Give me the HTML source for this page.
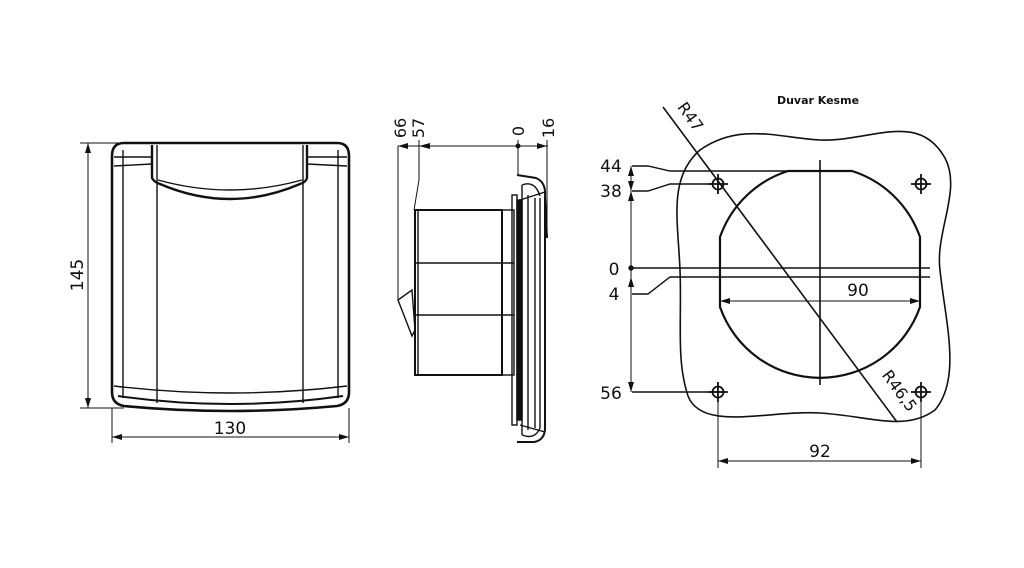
<!DOCTYPE html>
<html><head><meta charset="utf-8"><style>
html,body{margin:0;padding:0;background:#fff}
svg{display:block}
text{font-family:"DejaVu Sans","Liberation Sans",sans-serif;fill:#111}
</style></head><body>
<svg width="1024" height="568" viewBox="0 0 1024 568" xmlns="http://www.w3.org/2000/svg">
<defs>
<marker id="a" viewBox="0 0 10 6" refX="10" refY="3" markerWidth="10" markerHeight="6" orient="auto-start-reverse" markerUnits="userSpaceOnUse"><path d="M0,0 L10,3 L0,6 Z" fill="#111"/></marker>
</defs>
<g fill="none" stroke="#111" stroke-width="1.4">
<!-- LEFT VIEW -->
<path d="M124,143 L337,143 Q349,143 349,156 L349,392 Q349,404 337,406 Q230,416 124,406 Q112,404 112,392 L112,156 Q112,143 124,143 Z" stroke-width="2.6"/>
<line x1="123" y1="150" x2="123" y2="398"/>
<line x1="338" y1="150" x2="338" y2="398"/>
<line x1="157" y1="145" x2="157" y2="403"/>
<line x1="303" y1="145" x2="303" y2="403"/>
<path d="M114,157 L152,157 M307,157 L347,157"/>
<path d="M114,166 L152,164 M307,164 L347,166"/>
<path d="M152,145 L152,178 Q154,182 160,184 Q230,214 300,184 Q306,182 307,178 L307,145" stroke-width="2.4"/>
<path d="M158,180 Q230,200 302,180"/>
<path d="M114,386 Q230,400 347,386"/>
<path d="M118,396 Q230,412 343,396" stroke-width="2"/>
<!-- dims left -->
<line x1="80" y1="143" x2="124" y2="143" stroke-width="1"/>
<line x1="80" y1="408" x2="124" y2="408" stroke-width="1"/>
<line x1="88" y1="143" x2="88" y2="408" stroke-width="1" marker-start="url(#a)" marker-end="url(#a)"/>
<line x1="112" y1="408" x2="112" y2="443" stroke-width="1"/>
<line x1="349" y1="408" x2="349" y2="443" stroke-width="1"/>
<line x1="112" y1="437" x2="349" y2="437" stroke-width="1" marker-start="url(#a)" marker-end="url(#a)"/>

<!-- MIDDLE VIEW -->
<line x1="398" y1="146" x2="548" y2="146" stroke-width="1"/>
<path d="M398,146 L398,300" stroke-width="1"/>
<path d="M419,140 L419,180 L414,210" stroke-width="1"/>
<line x1="518" y1="140" x2="518" y2="175" stroke-width="1"/>
<line x1="547" y1="140" x2="547" y2="230" stroke-width="1"/>
<circle cx="518" cy="146" r="1.8" fill="#111"/>
<path d="M398,146 L408,143 L408,149 Z M419,146 L430,143 L430,149 Z M537,143 L547,146 L537,149 Z" fill="#111" stroke="none"/>
<rect x="415" y="210" width="87" height="165" stroke-width="2"/>
<line x1="418" y1="210" x2="418" y2="375"/>
<line x1="415" y1="263" x2="514" y2="263" stroke-width="1.6"/>
<line x1="415" y1="315" x2="514" y2="315" stroke-width="1.6"/>
<rect x="502" y="210" width="12" height="165"/>
<path d="M398,300 L412,290 L415,330 L412,336 Z"/>
<rect x="512" y="195" width="5" height="230"/>
<rect x="517" y="200" width="5" height="220" fill="#111"/>
<path d="M517,175 L536,178 Q546,182 545,196 L547,238 M545,196 L545,425 Q546,440 534,442 L517,442" stroke-width="2"/>
<path d="M522,185 L522,435 M528,195 L528,430 M535,198 L535,428 M540,198 L540,428"/>
<path d="M520,200 L545,192 M520,425 L545,432 M522,185 Q535,180 540,196 M522,435 Q535,440 540,428"/>

<!-- RIGHT VIEW -->
<path d="M700,150 C740,122 780,138 820,140 C870,142 918,110 945,158 C962,190 935,232 940,270 C945,320 962,378 935,410 C905,432 870,416 820,413 C768,410 702,432 688,396 C676,360 682,320 680,270 C678,220 668,178 700,150 Z" stroke-width="1.6"/>
<path d="M720,307 L720,237 A106,106 0 0 1 788,171 L852,171 A106,106 0 0 1 920,237 L920,307 A106,106 0 0 1 720,307 Z" stroke-width="2.2"/>
<line x1="820" y1="160" x2="820" y2="385" stroke-width="1.6"/>
<line x1="632" y1="268" x2="930" y2="268"/>
<path d="M632,294 L648,294 L670,277 L930,277"/>
<path d="M632,166 L648,166 L670,171 L790,171"/>
<path d="M632,191 L648,191 L670,184 L712,184"/>
<line x1="632" y1="392" x2="722" y2="392"/>
<line x1="631" y1="166" x2="631" y2="392" stroke-width="1"/>
<path d="M631,166 L628,176 L634,176 Z M631,191 L628,181 L634,181 Z M631,191 L628,201 L634,201 Z M631,277 L628,287 L634,287 Z M631,392 L628,382 L634,382 Z" fill="#111" stroke="none"/>
<circle cx="631" cy="268" r="2" fill="#111"/>
<line x1="663" y1="107" x2="897" y2="422" stroke-width="1.6"/>
<line x1="720" y1="301" x2="920" y2="301" stroke-width="1" marker-start="url(#a)" marker-end="url(#a)"/>
<g stroke-width="1.8">
<circle cx="718" cy="184" r="5.5"/><path d="M708,184 L728,184 M718,174 L718,194"/>
<circle cx="921" cy="184" r="5.5"/><path d="M911,184 L931,184 M921,174 L921,194"/>
<circle cx="718" cy="392" r="5.5"/><path d="M708,392 L728,392 M718,382 L718,402"/>
<circle cx="921" cy="392" r="5.5"/><path d="M911,392 L931,392 M921,382 L921,402"/>
</g>
<line x1="718" y1="396" x2="718" y2="468" stroke-width="1"/>
<line x1="921" y1="396" x2="921" y2="468" stroke-width="1"/>
<line x1="718" y1="461" x2="921" y2="461" stroke-width="1" marker-start="url(#a)" marker-end="url(#a)"/>
</g>
<!-- texts -->
<text x="230" y="434" font-size="17" text-anchor="middle">130</text>
<text transform="translate(83,275) rotate(-90)" font-size="17" text-anchor="middle">145</text>
<text transform="translate(406,128) rotate(-90)" font-size="16" text-anchor="middle">66</text>
<text transform="translate(424,128) rotate(-90)" font-size="16" text-anchor="middle">57</text>
<text transform="translate(524,131) rotate(-90)" font-size="16" text-anchor="middle">0</text>
<text transform="translate(554,128) rotate(-90)" font-size="16" text-anchor="middle">16</text>
<text x="611" y="172" font-size="17" text-anchor="middle">44</text>
<text x="611" y="197" font-size="17" text-anchor="middle">38</text>
<text x="614" y="275" font-size="17" text-anchor="middle">0</text>
<text x="614" y="300" font-size="17" text-anchor="middle">4</text>
<text x="611" y="399" font-size="17" text-anchor="middle">56</text>
<text x="858" y="296" font-size="17" text-anchor="middle">90</text>
<text x="820" y="457" font-size="17" text-anchor="middle">92</text>
<text transform="translate(686,120) rotate(54)" font-size="16" text-anchor="middle">R47</text>
<text transform="translate(895,394) rotate(54)" font-size="16" text-anchor="middle">R46,5</text>
<text x="818" y="104" font-size="11" font-weight="bold" text-anchor="middle">Duvar Kesme</text>
</svg>
</body></html>
